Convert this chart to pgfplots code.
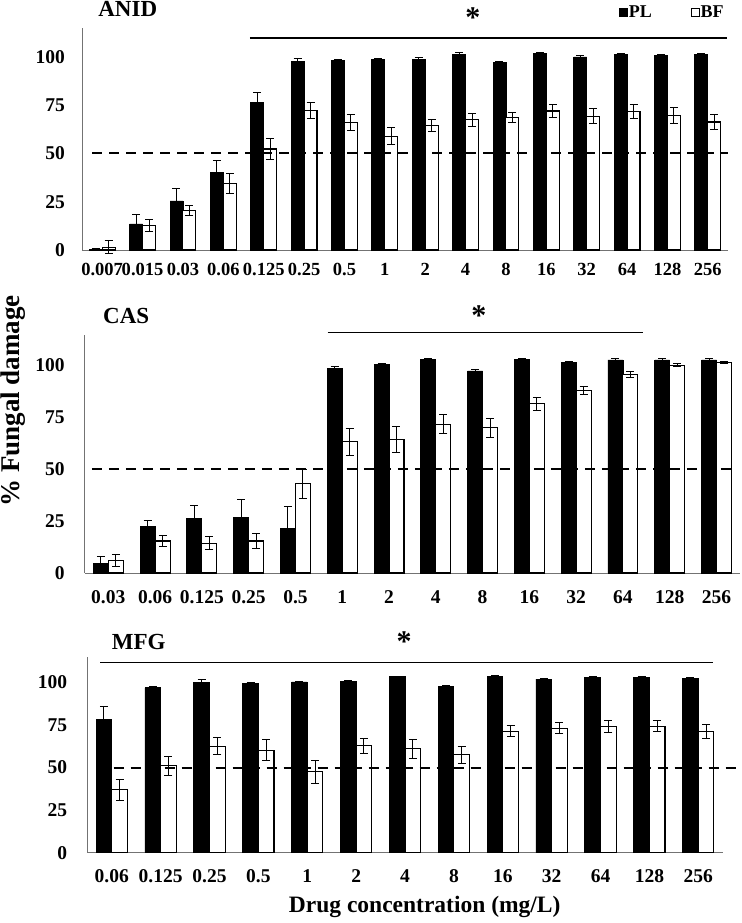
\documentclass[border=0pt]{standalone}
\usepackage{fontspec}
\setmainfont{Liberation Serif}
\usepackage{pgfplots}
\usepackage{pgfplotstable}
\pgfplotsset{compat=1.18}

\pgfplotstableread{
x pl ple bf bfe
0 0.4 0.3 1.5 3.5
1 13.5 5 12.6 3
2 25.4 6.4 20.4 2.6
3 40.2 6 34.5 5
4 76.3 5.4 52.3 5.5
5 97.8 1.5 72.2 4
6 98.4 0.5 66 4
7 98.6 0.5 59 4.4
8 98.8 1 64.6 3
9 101.4 1 67.5 3.3
10 97.2 0.5 68.6 2.8
11 102 0.5 72 3.5
12 100 0.5 69.3 4
13 101.2 0.5 71.8 3.7
14 101 0.5 69.6 4
15 101.4 0.5 66.3 4
}\anid

\pgfplotstableread{
x pl ple bf bfe
0 4.6 3.2 5.9 2.8
1 22.5 3 15.4 2.6
2 26.3 6 14.3 3.2
3 26.8 8.4 15.4 3.7
4 21.3 10.6 43 7
5 98.4 1 63.1 6.4
6 100.6 0.5 64.2 6.3
7 102.9 0.5 71.7 4.4
8 97.3 0.5 70 4.6
9 102.9 0.5 81.5 3.1
10 101.4 0.5 87.8 1.8
11 102.6 0.5 95.5 1.3
12 102.6 0.5 100 0.7
13 102.6 0.5 101.4 0.5
}\cas

\pgfplotstableread{
x pl ple bf bfe
0 78.2 7.9 37 6.2
1 96.8 0.5 51 5.5
2 100 1.4 62.6 5
3 99.4 0.6 60.2 6.3
4 100.2 0.3 47.5 6.8
5 100.7 0.5 62.8 4.5
6 103.3 0.4 61 5.7
7 97.8 0.5 57.5 4.9
8 103.7 0.3 71.4 3.3
9 101.9 0.4 73 3.3
10 102.9 0.4 73.9 3.5
11 102.9 0.4 74.3 3.2
12 102.3 0.4 71 4.1
}\mfg

\pgfplotsset{
  panel/.style={
    scale only axis,
    ybar=0pt,
    bar width=0.32,
    axis x line*=bottom, axis y line*=left,
    axis line style={black!55, line width=0.9bp},
    major tick length=0pt,
    ymin=0,
    ytick={0,25,50,75,100},
    xtick=data,
    /pgf/number format/assume math mode=true,
    ticklabel style={font=\bfseries\fontsize{19.5bp}{21bp}\selectfont},
    yticklabel style={anchor=east, inner sep=0pt, xshift=-20bp},
    xticklabel style={anchor=north, inner sep=0pt, yshift=-17bp},
    clip=false,
  },
  pl/.style={fill=black, draw=black, line width=0.8bp,
    error bars/.cd, y dir=both, y explicit,
    error bar style={black, line width=1bp},
    error mark options={black, line width=1bp, mark size=4bp, rotate=90}},
  bf/.style={fill=white, draw=black, line width=1.1bp,
    error bars/.cd, y dir=both, y explicit,
    error bar style={black, line width=1bp},
    error mark options={black, line width=1bp, mark size=4bp, rotate=90}},
}
\tikzset{
  ttlnode/.style={font=\bfseries\fontsize{23bp}{24bp}\selectfont, anchor=base west, inner sep=0pt},
  signode/.style={font=\bfseries\fontsize{30bp}{30bp}\selectfont, anchor=center, inner sep=0pt},
}

\begin{document}
\begin{tikzpicture}
\useasboundingbox (0,0) rectangle (742bp,923bp);

% ---------- ANID ----------
\begin{axis}[panel,
  at={(82bp,673bp)}, anchor=south west,
  width=646bp, height=222bp,
  xmin=-0.5, xmax=15.5, ymax=115,
  xticklabels={0.007,0.015,0.03,0.06,0.125,0.25,0.5,1,2,4,8,16,32,64,128,256},
  xticklabel style={yshift=4bp, font=\bfseries\fontsize{18.5bp}{20bp}\selectfont},
  yticklabel style={xshift=3bp},
  legend columns=2,
  legend image code/.code={\draw[#1, line width=0.8bp] (0bp,-4bp) rectangle (8bp,4bp);},
  legend style={draw=none, fill=none, at={(rel axis cs:0.831,1.072)}, anchor=west,
    inner sep=0pt, nodes={inner sep=1bp},
    font=\bfseries\fontsize{18bp}{18bp}\selectfont,
    /tikz/every even column/.append style={column sep=38bp}},
]
\addplot[pl] table[x=x, y=pl, y error=ple] {\anid};
\addplot[bf] table[x=x, y=bf, y error=bfe] {\anid};
\legend{PL,BF}
\draw[dash pattern=on 10bp off 7bp, line width=2bp] (axis cs:-0.25,50) -- (axis cs:15.5,50);
\draw[line width=1.5bp] (axis cs:3.66,109.7) -- (axis cs:15.48,109.7);
\node[signode] at (axis cs:9.18,120.2) {*};
\node[ttlnode] at (axis cs:-0.1,120.9) {ANID};
\end{axis}

% ---------- CAS ----------
\begin{axis}[panel,
  at={(84.9bp,350bp)}, anchor=south west,
  width=655bp, height=238bp,
  xmin=-0.5, xmax=13.5, ymax=114.6,
  xticklabels={0.03,0.06,0.125,0.25,0.5,1,2,4,8,16,32,64,128,256},
  ylabel={\% Fungal damage},
  ylabel style={at={(rel axis cs:0,0.723)}, anchor=center, yshift=71.5bp,
    font=\bfseries\fontsize{27bp}{27bp}\selectfont, inner sep=0pt},
]
\addplot[pl] table[x=x, y=pl, y error=ple] {\cas};
\addplot[bf] table[x=x, y=bf, y error=bfe] {\cas};
\draw[dash pattern=on 10bp off 7bp, line width=2bp] (axis cs:-0.35,50) -- (axis cs:13.32,50);
\draw[line width=1.5bp] (axis cs:4.69,115.7) -- (axis cs:11.43,115.7);
\node[signode] at (axis cs:7.92,123.7) {*};
\node[ttlnode] at (axis cs:-0.113,120.2) {CAS};
\end{axis}

% ---------- MFG ----------
\begin{axis}[panel,
  at={(87.3bp,70.3bp)}, anchor=south west,
  width=635.4bp, height=195.4bp,
  xmin=-0.5, xmax=12.5, ymax=114.7,
  xticklabels={0.06,0.125,0.25,0.5,1,2,4,8,16,32,64,128,256},
  xlabel={Drug concentration (mg/L)},
  xlabel style={at={(rel axis cs:0.531,0)}, anchor=base, yshift=-60bp,
    font=\bfseries\fontsize{23.5bp}{24bp}\selectfont, inner sep=0pt},
]
\addplot[pl] table[x=x, y=pl, y error=ple] {\mfg};
\addplot[bf] table[x=x, y=bf, y error=bfe] {\mfg};
\draw[dash pattern=on 10bp off 7bp, line width=2bp] (axis cs:-0.31,50) -- (axis cs:12.78,50);
\draw[line width=1.5bp] (axis cs:-0.23,111.5) -- (axis cs:12.3,111.5);
\node[signode] at (axis cs:5.98,123.8) {*};
\node[ttlnode] at (axis cs:0.0,119) {MFG};
\end{axis}
\end{tikzpicture}
\end{document}
